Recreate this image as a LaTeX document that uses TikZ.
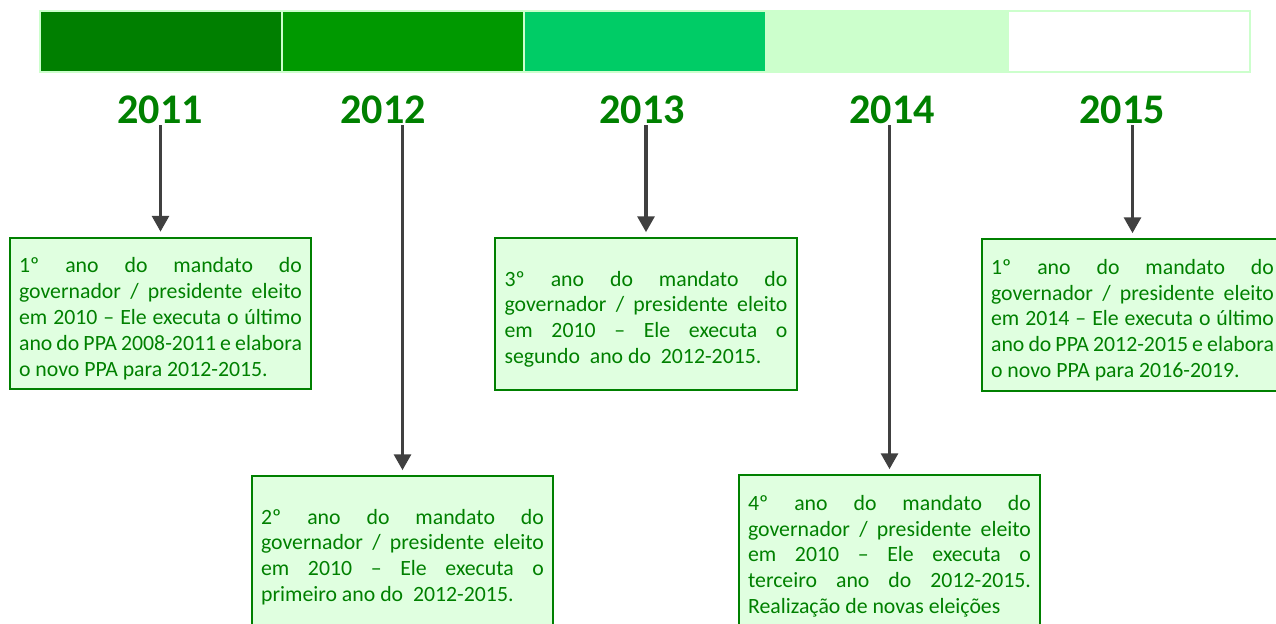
\documentclass[tikz,border=0pt]{standalone}
\usepackage{fontspec}
\setmainfont{Carlito}
\usetikzlibrary{arrows.meta}
\definecolor{yeargreen}{RGB}{0,128,0}
\definecolor{bari}{RGB}{0,127,0}
\definecolor{barii}{RGB}{0,153,0}
\definecolor{bariii}{RGB}{0,204,102}
\definecolor{bariv}{RGB}{204,255,204}
\definecolor{barline}{RGB}{204,255,204}
\definecolor{boxfill}{RGB}{224,255,224}
\definecolor{arrowgray}{RGB}{64,64,64}
\hbadness=10000
\exhyphenpenalty=10000
\hyphenpenalty=10000
\tikzset{
  year/.style={font=\fontsize{24pt}{26pt}\selectfont\bfseries, text=yeargreen, inner sep=1pt, anchor=base},
  infobox/.style={draw=yeargreen, line width=1.1pt, fill=boxfill, text=yeargreen,
    text width=161pt, align=justify, inner xsep=5.4pt, minimum height=86pt,
    font=\fontsize{12.4pt}{14.7pt}\selectfont, execute at begin node={\rule{0pt}{14.4pt}}},
  down/.style={draw=arrowgray, line width=2pt, -{Triangle[width=9.5pt,length=9pt]}, shorten >=3pt}
}
\begin{document}
\begin{tikzpicture}[x=0.02cm,y=-0.02cm]
  \useasboundingbox (0,0) rectangle (1276,623);
  % bar of the years
  \foreach \c [count=\i from 0] in {bari,barii,bariii,bariv,white}
    \draw [barline, line width=0.8pt, fill=\c] ({40+242*\i},11) rectangle ++(242,61);
  % years
  \node [year] (yr1) at (160,123) {2011};
  \node [year] (yr2) at (383,123) {2012};
  \node [year] (yr3) at (642,123) {2013};
  \node [year] (yr4) at (892,123) {2014};
  \node [year] (yr5) at (1122,123) {2015};
  % boxes
  \node [infobox] (b1) at (160.5,313.5) {1º ano do mandato do\linebreak governador / presidente eleito\linebreak em 2010 – Ele executa o último\linebreak ano do PPA 2008-2011 e elabora\linebreak o novo PPA para 2012-2015.};
  \node [infobox] (b2) at (402.5,552) {2º ano do mandato do\linebreak governador / presidente eleito\linebreak em 2010 – Ele executa o\linebreak primeiro ano do\ \ 2012-2015.};
  \node [infobox] (b3) at (646,314) {3º ano do mandato do\linebreak governador / presidente eleito\linebreak em 2010 – Ele executa o\linebreak segundo\ \ ano do\ \ 2012-2015.};
  \node [infobox] (b4) at (889.5,551) {4º ano do mandato do\linebreak governador / presidente eleito\linebreak em 2010 – Ele executa o\linebreak terceiro ano do 2012-2015.\linebreak Realização de novas eleições};
  \node [infobox] (b5) at (1132.5,315) {1º ano do mandato do\linebreak governador / presidente eleito\linebreak em 2014 – Ele executa o último\linebreak ano do PPA 2012-2015 e elabora\linebreak o novo PPA para 2016-2019.};
  % arrows
  \foreach \i in {1,...,5}
    \draw [down] (b\i.north |- yr\i.south) -- (b\i.north);
\end{tikzpicture}
\end{document}
